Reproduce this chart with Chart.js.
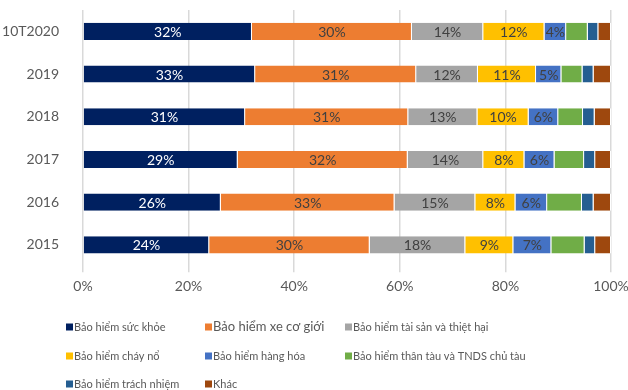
<!DOCTYPE html>
<html>
<head>
<meta charset="utf-8">
<script src="https://cdn.jsdelivr.net/npm/chart.js@4"></script>
<style>
  html, body { margin: 0; padding: 0; background: #fff; }
  #wrap { width: 628px; height: 390px; }
</style>
</head>
<body>
<div id="wrap"><canvas id="chart" width="628" height="390"></canvas></div>
<script>
// Năm / kỳ báo cáo
const years = ['10T2020', '2019', '2018', '2017', '2016', '2015'];

// Cơ cấu doanh thu phí theo nghiệp vụ (%)
const sucKhoe   = [32.0, 32.6, 30.7, 29.3, 26.1, 23.9];
const xeCoGioi  = [30.3, 30.5, 30.9, 32.2, 32.9, 30.4];
const taiSan    = [13.5, 11.7, 13.1, 14.3, 15.3, 18.1];
const chayNo    = [11.6, 11.0,  9.7,  7.8,  7.6,  9.1];
const hangHoa   = [ 4.1,  4.8,  5.6,  5.7,  6.0,  7.2];
const thanTau   = [ 4.1,  4.0,  4.7,  5.6,  6.6,  6.3];
const trachNhiem= [ 2.0,  2.1,  2.2,  2.1,  2.2,  2.0];
const khac      = [ 2.4,  3.3,  3.1,  3.0,  3.3,  3.0];

const xTicks = [0, 20, 40, 60, 80, 100];

const FONT = 'Lato, "Open Sans", sans-serif';

function ds(label, data, color, showLabel, labelColor) {
  return {
    label: label,
    data: data,
    backgroundColor: color,
    borderColor: '#ffffff',
    borderWidth: { left: 0, right: 1, top: 0, bottom: 0 },
    borderSkipped: false,
    showLabel: showLabel,
    labelColor: labelColor
  };
}

// nhãn % ở giữa mỗi đoạn thanh
const barLabels = {
  id: 'barLabels',
  afterDatasetsDraw(chart) {
    const ctx = chart.ctx;
    ctx.save();
    ctx.font = '14px ' + FONT;
    ctx.textAlign = 'center';
    ctx.textBaseline = 'middle';
    chart.data.datasets.forEach((d, i) => {
      if (!d.showLabel) return;
      chart.getDatasetMeta(i).data.forEach((bar, j) => {
        const cx = (bar.x + bar.base) / 2;
        ctx.fillStyle = d.labelColor;
        ctx.fillText(Math.round(d.data[j]) + '%', cx, bar.y + 1);
      });
    });
    ctx.restore();
  }
};

// chú thích 3 cột bên dưới
const gridLegend = {
  id: 'gridLegend',
  afterDraw(chart) {
    const ctx = chart.ctx;
    const cols = [66, 205, 345];
    const rows = [327, 356, 384];
    ctx.save();
    ctx.textBaseline = 'middle';
    ctx.textAlign = 'left';
    chart.data.datasets.forEach((d, i) => {
      const x = cols[i % 3];
      const y = rows[Math.floor(i / 3)];
      ctx.fillStyle = d.backgroundColor;
      ctx.fillRect(x, y - 3.5, 7, 7);
      ctx.fillStyle = '#595959';
      ctx.font = (i === 1 ? '13px ' : '11px ') + FONT;
      ctx.fillText(d.label, x + 8, y);
    });
    ctx.restore();
  }
};

new Chart(document.getElementById('chart'), {
  type: 'bar',
  data: {
    labels: years,
    datasets: [
      ds('Bảo hiểm sức khỏe', sucKhoe, '#002060', true, '#ffffff'),
      ds('Bảo hiểm xe cơ giới', xeCoGioi, '#ED7D31', true, '#404040'),
      ds('Bảo hiểm tài sản và thiệt hại', taiSan, '#A5A5A5', true, '#404040'),
      ds('Bảo hiểm cháy nổ', chayNo, '#FFC000', true, '#404040'),
      ds('Bảo hiểm hàng hóa', hangHoa, '#4472C4', true, '#404040'),
      ds('Bảo hiểm thân tàu và TNDS chủ tàu', thanTau, '#70AD47', false),
      ds('Bảo hiểm trách nhiệm', trachNhiem, '#255E91', false),
      ds('Khác', khac, '#9E480E', false)
    ]
  },
  options: {
    indexAxis: 'y',
    responsive: false,
    animation: false,
    layout: { padding: { top: 10, right: 17, bottom: 89, left: 0 } },
    datasets: { bar: { barPercentage: 0.4, categoryPercentage: 1 } },
    scales: {
      x: {
        stacked: true,
        min: 0,
        max: 100,
        afterBuildTicks: axis => { axis.ticks = xTicks.map(v => ({ value: v })); },
        afterFit: axis => {
          axis.paddingLeft = 0; axis.paddingRight = 0;
          axis.paddingTop = 0; axis.paddingBottom = 0;
        },
        grid: { color: '#D9D9D9', lineWidth: 1.5, drawTicks: true, tickLength: 6 },
        border: { display: false },
        ticks: {
          color: '#595959',
          font: { family: FONT, size: 14 },
          padding: 6,
          maxRotation: 0,
          callback: v => v + '%'
        }
      },
      y: {
        stacked: true,
        afterFit: axis => {
          axis.width = 83;
          axis.paddingTop = 0; axis.paddingBottom = 0;
        },
        grid: { display: false },
        border: { display: false },
        ticks: {
          color: '#595959',
          font: { family: FONT, size: 14 },
          padding: 16
        }
      }
    },
    plugins: {
      legend: { display: false },
      tooltip: { enabled: false }
    }
  },
  plugins: [barLabels, gridLegend]
});
</script>
</body>
</html>
